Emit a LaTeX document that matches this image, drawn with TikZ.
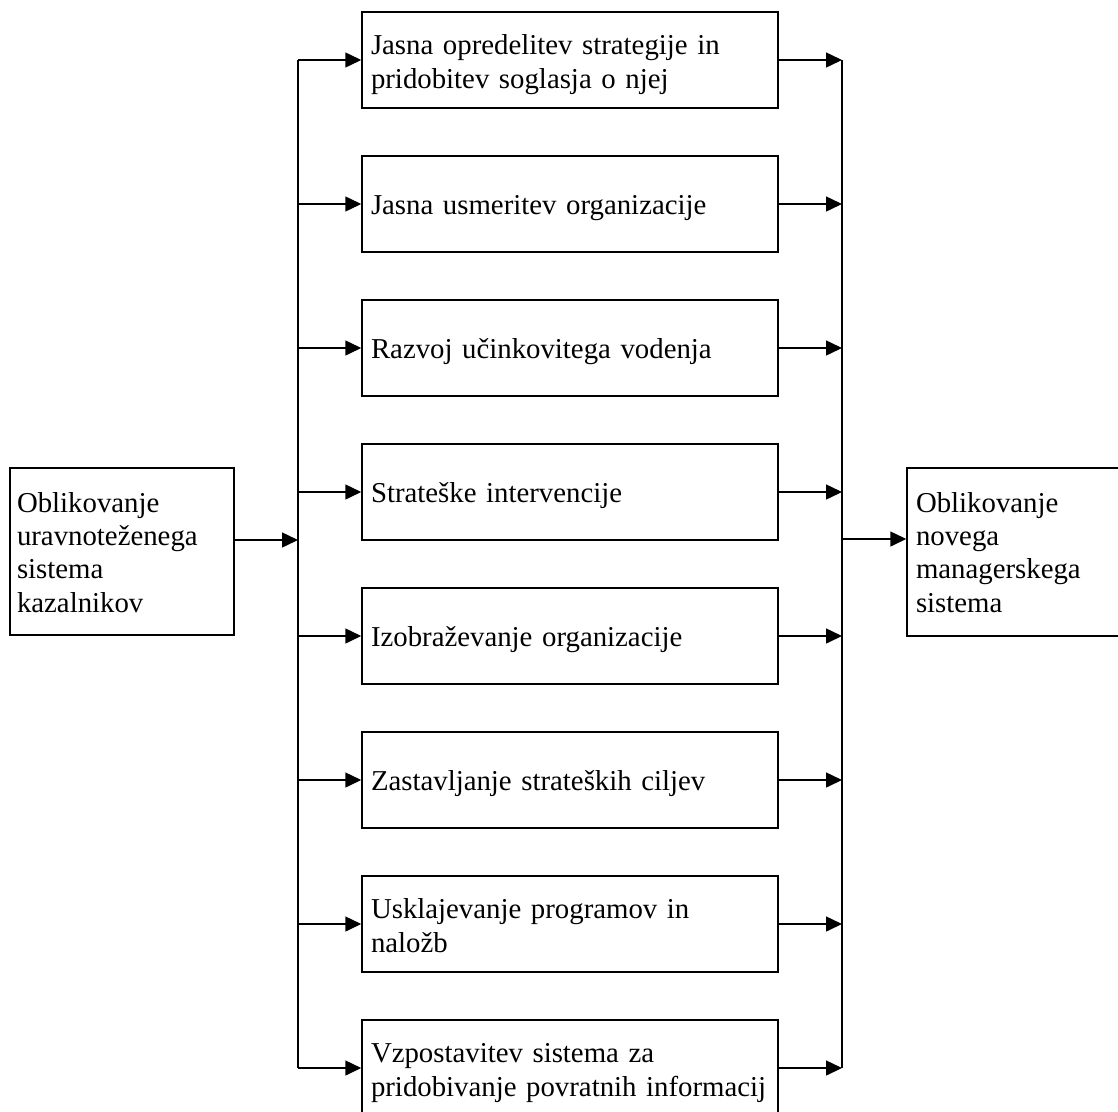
\documentclass[tikz,border=0pt]{standalone}
\usepackage{fontspec}
\setmainfont{Liberation Serif}
\usetikzlibrary{arrows.meta}
\hyphenpenalty=10000
\exhyphenpenalty=10000
\begin{document}
\begin{tikzpicture}[x=1pt,y=-1pt,
  every node/.style={font=\fontsize{28.8}{34}\selectfont},
  midbox/.style={draw,line width=1.5pt,minimum width=416pt,minimum height=96pt,
    inner xsep=9pt,text width=398pt,align=left,inner ysep=0pt,text height=20pt,text depth=0pt},
  twoline/.style={text depth=32pt},
  sidebox/.style={draw,line width=1.5pt,align=left,inner ysep=0pt,text height=20pt,
    font=\fontsize{28.8}{33.4}\selectfont},
  arr/.style={line width=1.5pt,-{Triangle[length=16pt,width=15pt]}},
  bus/.style={line width=1.5pt}]
\useasboundingbox (0,0) rectangle (1118,1111);
\clip (0,0) rectangle (1118,1111);
% left and right boxes
\node[sidebox,minimum width=224pt,minimum height=167pt,inner xsep=7pt,text width=210pt,text depth=99pt] (L) at (122,551.5)
  {Oblikovanje\\uravnoteženega\\sistema\\kazalnikov};
\node[sidebox,minimum width=240pt,minimum height=168pt,inner xsep=9pt,text width=222pt,text depth=100pt] (R) at (1027,552)
  {Oblikovanje\\novega\\managerskega\\sistema};
% middle boxes
\node[midbox,twoline] (b0) at (570,60) {Jasna opredelitev strategije in\\pridobitev soglasja o njej};
\node[midbox] (b1) at (570,204) {Jasna usmeritev organizacije};
\node[midbox] (b2) at (570,348) {Razvoj učinkovitega vodenja};
\node[midbox] (b3) at (570,492) {Strateške intervencije};
\node[midbox] (b4) at (570,636) {Izobraževanje organizacije};
\node[midbox] (b5) at (570,780) {Zastavljanje strateških ciljev};
\node[midbox,twoline] (b6) at (570,924) {Usklajevanje programov in\\naložb};
\node[midbox,twoline] (b7) at (570,1068) {Vzpostavitev sistema za\\pridobivanje povratnih informacij};
% buses
\coordinate (lt) at (298,60);
\coordinate (lb) at (298,1068);
\coordinate (rt) at (842,60);
\coordinate (rb) at (842,1068);
\coordinate (lj) at (298,540);
\coordinate (rj) at (842,539);
\draw[bus] (lt) -- (lb);
\draw[bus] (rt) -- (rb);
\draw[arr] (L.east |- lj) -- (lj);
\draw[arr] (rj) -- (R.west |- rj);
\foreach \i in {0,...,7}{
  \draw[arr] (b\i.west -| lt) -- (b\i.west);
  \draw[arr] (b\i.east) -- (b\i.east -| rt);
}
\end{tikzpicture}
\end{document}
